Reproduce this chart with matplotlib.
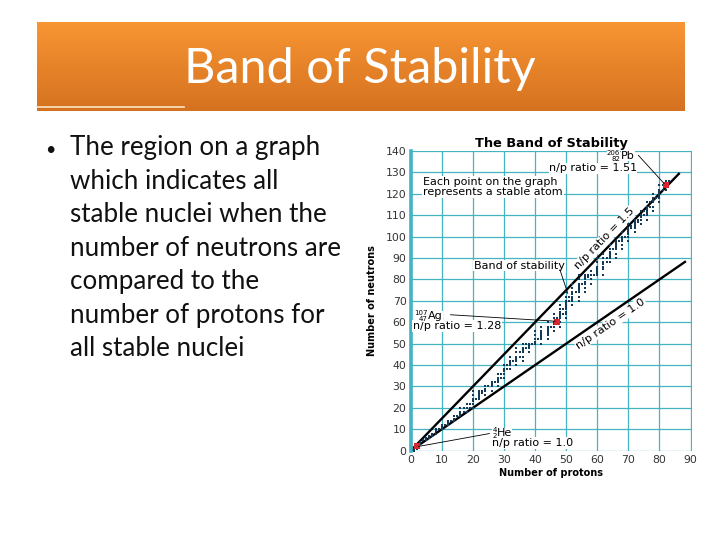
import numpy as np
import matplotlib
matplotlib.use("Agg")
import matplotlib.pyplot as plt

# ---------------- data ----------------
slide_title = "Band of Stability"
bullet_lines = ["The region on a graph", "which indicates all", "stable nuclei when the",
                "number of neutrons are", "compared to the", "number of protons for",
                "all stable nuclei"]

element_Z = [1, 2, 3, 4, 5, 6, 7, 8, 9, 10, 11, 12, 13, 14, 15, 16, 17, 18, 19, 20,
             21, 22, 23, 24, 25, 26, 27, 28, 29, 30, 31, 32, 33, 34, 35, 36, 37, 38, 39, 40,
             41, 42, 44, 45, 46, 47, 48, 49, 50, 51, 52, 53, 54, 55, 56, 57, 58, 59, 60,
             62, 63, 64, 65, 66, 67, 68, 69, 70, 71, 72, 73, 74, 75, 76, 77, 78, 79, 80,
             81, 82, 83]
stable_neutrons = [
    [0, 1], [1, 2], [3, 4], [5], [5, 6], [6, 7], [7, 8], [8, 9, 10], [10], [10, 11, 12],
    [12], [12, 13, 14], [14], [14, 15, 16], [16], [16, 17, 18, 20], [18, 20], [18, 20, 22],
    [20, 22], [20, 22, 23, 24, 26, 28],
    [24], [24, 25, 26, 27, 28], [27, 28], [26, 28, 29, 30], [30], [28, 30, 31, 32], [32],
    [30, 32, 33, 34, 36], [34, 36], [34, 36, 37, 38, 40], [38, 40], [38, 40, 41, 42, 44],
    [42], [40, 42, 43, 44, 46, 48], [44, 46], [42, 44, 46, 47, 48, 50], [48, 50],
    [46, 48, 49, 50], [50], [50, 51, 52, 54, 56],
    [52], [50, 52, 53, 54, 55, 56, 58], [52, 54, 55, 56, 57, 58, 60], [58],
    [56, 58, 59, 60, 62, 64], [60, 62], [58, 60, 62, 63, 64, 65, 66, 68], [64, 66],
    [62, 64, 65, 66, 67, 68, 69, 70, 72, 74], [70, 72], [68, 70, 71, 72, 73, 74, 76, 78],
    [74], [70, 72, 74, 75, 76, 77, 78, 80, 82], [78], [74, 76, 78, 79, 80, 81, 82],
    [81, 82], [78, 80, 82, 84], [82], [82, 83, 84, 85, 86, 88, 90],
    [82, 85, 86, 87, 88, 90, 92], [88, 90], [88, 90, 91, 92, 93, 94, 96], [94],
    [90, 92, 94, 95, 96, 97, 98], [98], [94, 96, 98, 99, 100, 102], [100],
    [98, 100, 101, 102, 103, 104, 106], [104, 105], [102, 104, 105, 106, 107, 108],
    [107, 108], [106, 108, 109, 110, 112], [110, 112], [108, 110, 111, 112, 113, 114, 116],
    [114, 116], [112, 114, 116, 117, 118, 120], [118], [116, 118, 119, 120, 121, 122, 124],
    [122, 124], [122, 124, 125, 126], [126]]

highlight_Z = [2, 47, 82]
highlight_N = [2, 60, 124]
highlight_mass = ["4", "107", "206"]
highlight_symbol = ["He", "Ag", "Pb"]
highlight_ratio = ["1.0", "1.28", "1.51"]

ratio_values = [1.5, 1.0]
ratio_line_end_Z = [86.5, 88.5]

x_ticks = [0, 10, 20, 30, 40, 50, 60, 70, 80, 90]
y_ticks = [0, 10, 20, 30, 40, 50, 60, 70, 80, 90, 100, 110, 120, 130, 140]

# ---------------- figure ----------------
W, H = 720, 540
fig = plt.figure(figsize=(7.2, 5.4), dpi=100)
fig.patch.set_facecolor("white")

bg = fig.add_axes([0, 0, 1, 1])
bg.set_xlim(0, W)
bg.set_ylim(H, 0)
bg.axis("off")

# orange banner with vertical gradient
top = np.array([0.972, 0.584, 0.200])
bot = np.array([0.835, 0.447, 0.125])
t = np.linspace(0, 1, 100)[:, None]
grad = (top[None, :] * (1 - t) + bot[None, :] * t)[:, None, :]
bg.imshow(grad, extent=[37, 685, 111, 22], aspect="auto", zorder=1)
bg.plot([37, 184], [106.5, 106.5], color="#fbe7c6", lw=1.2, zorder=2)
bg.text(360, 69, slide_title, color="white", fontsize=35, family="Lato",
        ha="center", va="center", zorder=3)

# bullet text
bg.text(45, 150, "\u2022", fontsize=13, family="Lato", va="center", ha="left", color="#111111")
for i, line in enumerate(bullet_lines):
    bg.text(70, 148 + i * 33.5, line, fontsize=18.7, family="Lato", va="center",
            ha="left", color="#111111")

# ---------------- chart ----------------
x0, x1 = 410.7, 691.5
y0, y1 = 450.7, 151.0
ax = fig.add_axes([x0 / W, 1 - y0 / H, (x1 - x0) / W, (y0 - y1) / H])
ax.set_xlim(0, 90.3)
ax.set_ylim(0, 140)
ax.set_facecolor("white")

grid_c = "#44b3c2"
ax.set_xticks(x_ticks)
ax.set_yticks(y_ticks)
ax.grid(True, color=grid_c, lw=0.9, zorder=0)
for s in ["top", "right", "bottom"]:
    ax.spines[s].set_visible(False)
ax.spines["left"].set_color(grid_c)
ax.spines["left"].set_linewidth(2.6)
ax.tick_params(length=0, labelsize=7.8, labelcolor="#333333", pad=3)

zs, ns = [], []
for z, nl in zip(element_Z, stable_neutrons):
    for n in nl:
        zs.append(z)
        ns.append(n)
ax.scatter(zs, ns, marker="s", s=3.4, color="#143a58", linewidths=0, zorder=3)
ax.scatter(highlight_Z, highlight_N, marker="s", s=16, color="#d9272e", linewidths=0, zorder=4)

for r, ze in zip(ratio_values, ratio_line_end_Z):
    zz = np.array([0, ze])
    ax.plot(zz, r * zz, color="black", lw=1.7, zorder=2, solid_capstyle="butt")

fs = 8
ax.set_title("The Band of Stability", fontsize=9.3, fontweight="bold", pad=3)
ax.set_xlabel("Number of protons", fontsize=7, fontweight="bold", labelpad=2)
ax.set_ylabel("Number of neutrons", fontsize=7, fontweight="bold",
              family=["Liberation Sans Narrow", "DejaVu Sans"], labelpad=6)

bbox_w = dict(facecolor="white", edgecolor="none", pad=0.6)
ax.text(4.0, 123.3, "Each point on the graph\nrepresents a stable atom", fontsize=fs,
        va="center", ha="left", linespacing=1.0, bbox=bbox_w, zorder=5)


def nuclide(x, y, mass, z, sym):
    """Nuclide symbol with stacked mass/atomic numbers; (x, y) is the left of the symbol."""
    bb = dict(facecolor="white", edgecolor="none", pad=0.0)
    ax.annotate(sym, (x, y), xytext=(0, 0), textcoords="offset points", fontsize=fs,
                ha="left", va="center", bbox=bb, zorder=6)
    ax.annotate(mass, (x, y), xytext=(-0.4, 2.3), textcoords="offset points", fontsize=5.0,
                ha="right", va="center", bbox=bb, zorder=6)
    ax.annotate(z, (x, y), xytext=(-0.4, -2.0), textcoords="offset points", fontsize=5.0,
                ha="right", va="center", bbox=bb, zorder=6)


# Pb
nuclide(67.6, 137.6, highlight_mass[2], str(highlight_Z[2]), highlight_symbol[2])
ax.text(72.8, 131.9, "n/p ratio = " + highlight_ratio[2], fontsize=fs, ha="right",
        va="center", bbox=dict(facecolor="white", edgecolor="none", pad=0.2), zorder=5)
ax.plot([73.2, 81.5], [138.0, 124.8], color="black", lw=0.6, zorder=5)

ax.text(35, 86.5, "Band of stability", fontsize=fs, ha="center", va="center",
        bbox=bbox_w, zorder=5)
ax.plot([48.0, 50.5], [84.5, 73.5], color="black", lw=0.6, zorder=5)

# Ag
nuclide(5.6, 63.0, highlight_mass[1], str(highlight_Z[1]), highlight_symbol[1])
ax.text(0.8, 58.3, "n/p ratio = " + highlight_ratio[1], fontsize=fs, ha="left",
        va="center", bbox=bbox_w, zorder=5)
ax.plot([12.8, 46.5], [63.5, 60.5], color="black", lw=0.6, zorder=5)

# He
nuclide(27.8, 8.3, highlight_mass[0], str(highlight_Z[0]), highlight_symbol[0])
ax.text(26.2, 3.7, "n/p ratio = " + highlight_ratio[0], fontsize=fs, ha="left",
        va="center", bbox=bbox_w, zorder=5)
ax.plot([25.3, 2.5], [8.0, 2.0], color="black", lw=0.6, zorder=5)

ax.text(62.5, 99.3, "n/p ratio = 1.5", fontsize=fs, ha="center", va="center",
        rotation=46, rotation_mode="anchor", bbox=bbox_w, zorder=5)
ax.text(64.3, 59.3, "n/p ratio = 1.0", fontsize=fs, ha="center", va="center",
        rotation=34.5, rotation_mode="anchor", bbox=bbox_w, zorder=5)

fig.savefig("out.png", dpi=100, facecolor="white")
